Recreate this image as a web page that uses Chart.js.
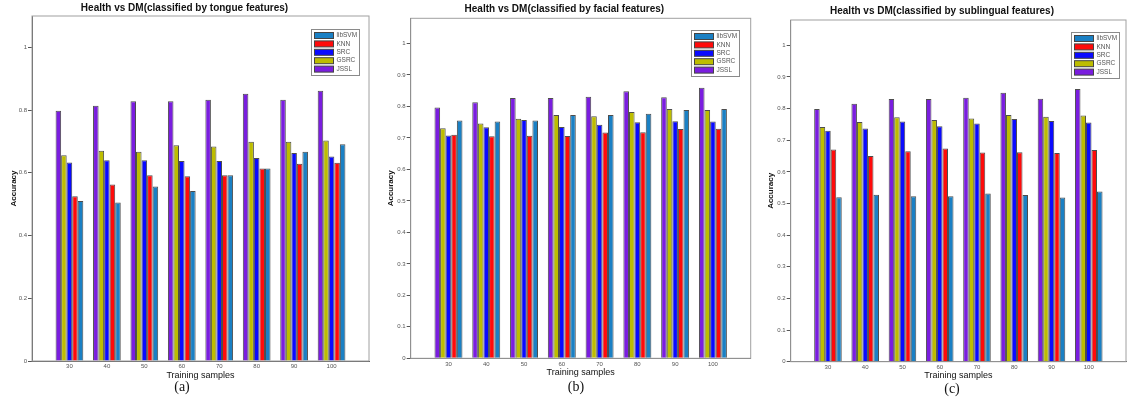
<!DOCTYPE html>
<html>
<head>
<meta charset="utf-8">
<script src="https://cdn.jsdelivr.net/npm/chart.js@4.4.1/dist/chart.umd.min.js"></script>
<style>
body { margin: 0; background: #fff; width: 1128px; height: 400px; overflow: hidden; position: relative; }
canvas { position: absolute; top: 0; }
.cap { position: absolute; font: 14px "Liberation Serif", serif; color: #111; transform: translate(-50%, -50%); }
</style>
</head>
<body>
<canvas id="tongue" width="400" height="400" style="left:0px"></canvas>
<canvas id="facial" width="404" height="400" style="left:378px"></canvas>
<canvas id="sublingual" width="398" height="400" style="left:758px"></canvas>
<div class="cap" style="left:182px;top:387px">(a)</div>
<div class="cap" style="left:576px;top:387px">(b)</div>
<div class="cap" style="left:952px;top:389px">(c)</div>
<script>
var samples = [30, 40, 50, 60, 70, 80, 90, 100];
var methods = ['JSSL', 'GSRC', 'SRC', 'KNN', 'libSVM'];
var colors = ['#7a1ddf', '#bdbd00', '#0a0aff', '#ff0a0a', '#1a80c4'];

// tongue features (a)
var tongueJSSL = [0.798, 0.814, 0.828, 0.828, 0.833, 0.852, 0.833, 0.862];
var tongueGSRC = [0.656, 0.670, 0.667, 0.688, 0.684, 0.699, 0.699, 0.703];
var tongueSRC = [0.633, 0.640, 0.640, 0.638, 0.638, 0.647, 0.663, 0.652];
var tongueKNN = [0.525, 0.563, 0.592, 0.589, 0.592, 0.614, 0.629, 0.632];
var tongueSVM = [0.510, 0.505, 0.556, 0.542, 0.592, 0.614, 0.667, 0.691];

// facial features (b)
var facialJSSL = [0.797, 0.813, 0.827, 0.827, 0.831, 0.848, 0.829, 0.859];
var facialGSRC = [0.731, 0.746, 0.761, 0.773, 0.769, 0.782, 0.792, 0.789];
var facialSRC = [0.708, 0.734, 0.757, 0.735, 0.742, 0.750, 0.753, 0.752];
var facialKNN = [0.710, 0.705, 0.707, 0.706, 0.717, 0.718, 0.728, 0.729];
var facialSVM = [0.755, 0.752, 0.755, 0.773, 0.773, 0.777, 0.789, 0.792];

// sublingual features (c)
var subJSSL = [0.799, 0.815, 0.830, 0.830, 0.834, 0.850, 0.831, 0.862];
var subGSRC = [0.742, 0.758, 0.773, 0.764, 0.769, 0.780, 0.774, 0.778];
var subSRC = [0.730, 0.737, 0.759, 0.744, 0.753, 0.767, 0.761, 0.756];
var subKNN = [0.671, 0.650, 0.665, 0.674, 0.661, 0.662, 0.660, 0.669];
var subSVM = [0.520, 0.528, 0.523, 0.523, 0.532, 0.527, 0.519, 0.538];

Chart.defaults.font.family = '"Liberation Sans", Arial, sans-serif';

var frameBox = {
    id: 'frameBox',
    beforeDatasetsDraw: function(chart) {
        var a = chart.chartArea, ctx = chart.ctx;
        ctx.save();
        ctx.strokeStyle = '#a0a0a0';
        ctx.lineWidth = 1;
        ctx.strokeRect(a.left, a.top, a.right - a.left, a.bottom - a.top);
        ctx.restore();
    }
};

// matlab style legend box, drawn in reverse dataset order
var legendBox = {
    id: 'legendBox',
    afterDraw: function(chart, args, opts) {
        var a = chart.chartArea, ctx = chart.ctx;
        var w = 48, h = 46;
        var x = Math.round(a.right - opts.right - w) + 0.5, y = Math.round(a.top + opts.top) + 0.5;
        ctx.save();
        ctx.fillStyle = '#fff';
        ctx.fillRect(x, y, w, h);
        ctx.strokeStyle = '#8a8a8a';
        ctx.lineWidth = 1;
        ctx.strokeRect(x, y, w, h);
        ctx.font = '6.5px "Liberation Sans", Arial, sans-serif';
        ctx.textBaseline = 'middle';
        chart.data.datasets.slice().reverse().forEach(function(ds, i) {
            var cy = y + 6 + i * 8.4;
            ctx.fillStyle = ds.backgroundColor;
            ctx.fillRect(x + 3, cy - 3, 19, 6);
            ctx.strokeStyle = '#444';
            ctx.strokeRect(x + 3, cy - 3, 19, 6);
            ctx.fillStyle = '#555';
            ctx.fillText(ds.label, x + 25, cy);
        });
        ctx.restore();
    }
};

function buildPanel(id, title, series, yMax, yStep, geo) {
    var el = document.getElementById(id);
    return new Chart(el, {
        type: 'bar',
        data: {
            labels: samples,
            datasets: methods.map(function(m, i) {
                return {
                    label: m,
                    data: series[i],
                    backgroundColor: colors[i],
                    borderColor: '#4d4d4d',
                    borderWidth: 1
                };
            })
        },
        options: {
            responsive: false,
            animation: false,
            layout: { padding: { left: 0, right: geo.right, top: 0, bottom: geo.bottom } },
            datasets: { bar: { categoryPercentage: 0.74, barPercentage: 1 } },
            plugins: {
                legend: { display: false },
                tooltip: { enabled: false },
                title: {
                    display: true,
                    text: title,
                    color: '#111',
                    font: { size: 10, weight: 'bold', lineHeight: 1.2 },
                    padding: { top: geo.titleTop, bottom: geo.titleBottom }
                },
                legendBox: { right: geo.legRight, top: geo.legTop }
            },
            scales: {
                x: {
                    type: 'linear',
                    min: 20,
                    max: 110,
                    offset: false,
                    afterBuildTicks: function(s) {
                        s.ticks = samples.map(function(v) { return { value: v }; });
                    },
                    afterFit: function(s) { s.height = geo.xHeight; },
                    grid: { drawOnChartArea: false, drawTicks: false, offset: false },
                    border: { color: '#555' },
                    ticks: { font: { size: 6 }, color: '#555', padding: 2, maxRotation: 0, autoSkip: false },
                    title: { display: true, text: 'Training samples', color: '#111', font: { size: 9, lineHeight: 1 }, padding: 0 }
                },
                y: {
                    min: 0,
                    max: yMax,
                    afterBuildTicks: function(s) {
                        s.ticks = s.ticks.filter(function(t) { return t.value <= 1.0001; });
                    },
                    afterFit: function(s) { s.width = geo.yWidth; },
                    grid: { drawOnChartArea: false, tickLength: 4, color: '#555' },
                    border: { color: '#555' },
                    ticks: {
                        stepSize: yStep, font: { size: 6 }, color: '#555', padding: 1,
                        callback: function(v) { return String(Math.round(v * 10) / 10); }
                    },
                    title: { display: true, text: 'Accuracy', color: '#111', font: { size: 8, weight: 'bold', lineHeight: 1 }, padding: { top: geo.yTitle, bottom: 0 } }
                }
            }
        },
        plugins: [frameBox, legendBox]
    });
}

buildPanel('tongue', 'Health vs DM(classified by tongue features)',
    [tongueJSSL, tongueGSRC, tongueSRC, tongueKNN, tongueSVM], 1.1, 0.2,
    { right: 31, bottom: 19.5, titleTop: 2, titleBottom: 2, xHeight: 19.5, yWidth: 32, legRight: 10, legTop: 13.3, yTitle: 9.3 });

buildPanel('facial', 'Health vs DM(classified by facial features)',
    [facialJSSL, facialGSRC, facialSRC, facialKNN, facialSVM], 1.08, 0.1,
    { right: 31.3, bottom: 22.8, titleTop: 3, titleBottom: 3.3, xHeight: 18.9, yWidth: 32.7, legRight: 11.4, legTop: 12, yTitle: 9 });

buildPanel('sublingual', 'Health vs DM(classified by sublingual features)',
    [subJSSL, subGSRC, subSRC, subKNN, subSVM], 1.08, 0.1,
    { right: 30, bottom: 19.5, titleTop: 5, titleBottom: 3, xHeight: 18.8, yWidth: 32.7, legRight: 7.3, legTop: 12.3, yTitle: 9 });
</script>
</body>
</html>
